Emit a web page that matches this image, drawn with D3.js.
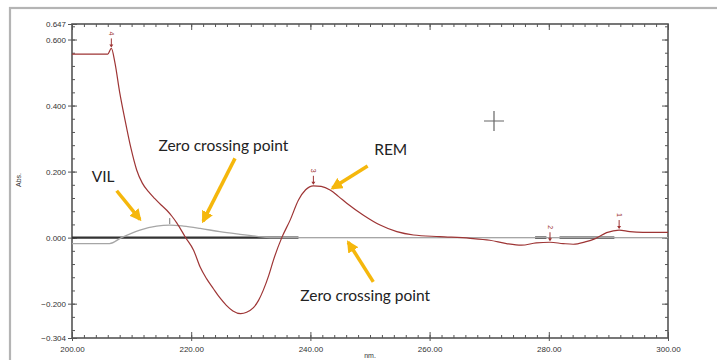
<!DOCTYPE html>
<html>
<head>
<meta charset="utf-8">
<script src="https://cdn.jsdelivr.net/npm/d3@7"></script>
<style>
  body { margin: 0; background: #fff; }
  svg { display: block; }
</style>
</head>
<body>
<div id="chart"></div>
<script>
// --- data ---

// derivative spectrum of REM (red)
let rem_nm  = [200, 206.0, 206.6, 207.2, 208.0, 208.9, 209.9, 210.85, 211.8, 212.8, 213.9, 215.0, 215.9, 216.8, 217.6,
  219.0, 220.4, 221.5, 222.6, 223.7, 224.8, 225.9, 227.0, 228.3, 229.3, 230.4, 231.3, 232.1, 233.0, 233.8,
  235.2, 236.6, 238.0, 239.2, 240.5, 241.8, 243.3, 244.7, 246.1, 248.9, 251.7, 254.5, 257.3, 261.7, 266.8,
  270.1, 272.9, 275.4, 277.9, 280.2, 282.4, 284.1, 286.1, 287.8, 289.7, 291.8, 293.6, 295.8, 300];
let rem_abs = [0.556, 0.556, 0.573, 0.53, 0.44, 0.356, 0.27, 0.205, 0.165, 0.140, 0.118, 0.098, 0.083, 0.064, 0.044,
  0.002, -0.038, -0.089, -0.125, -0.154, -0.182, -0.205, -0.222, -0.230, -0.226, -0.213, -0.190, -0.159, -0.115, -0.068,
  0.0, 0.053, 0.114, 0.145, 0.157, 0.155, 0.144, 0.125, 0.104, 0.068, 0.038, 0.018, 0.008, 0.003, -0.002,
  -0.008, -0.018, -0.023, -0.016, -0.014, -0.018, -0.020, -0.013, -0.003, 0.015, 0.023, 0.018, 0.016, 0.016];

// derivative spectrum of VIL (grey)
let vil_nm  = [200, 206.3, 208.3, 211.4, 214.2, 216.4, 218.7, 221.5, 224.8, 228.2, 231.0, 233.2, 300];
let vil_abs = [-0.018, -0.018, 0.0, 0.023, 0.035, 0.038, 0.035, 0.028, 0.018, 0.010, 0.004, 0.0, 0.0];

// peak pick labels
let peak_num = ["4", "3", "2", "1"];
let peak_nm  = [206.6, 240.5, 280.2, 291.8];
let peak_abs = [0.573, 0.157, -0.014, 0.023];

// thick black baseline segments [from, to]
let base_from = [200, 277.7, 281.8];
let base_to   = [238, 279.6, 291.0];

// axis ticks
let y_major = [-0.304, -0.2, 0, 0.2, 0.4, 0.6, 0.647];
let y_minor = d3.range(-0.28, 0.641, 0.04);
let x_major = [200, 220, 240, 260, 280, 300];
let x_minor = d3.range(202, 300, 2);

// annotations: text, nm, abs
let note_text = ["Zero crossing point", "VIL", "REM", "Zero crossing point"];
let note_nm   = [225.4, 203.3, 250.7, 238.3];
let note_abs  = [0.262, 0.169, 0.250, -0.192];
let note_anchor = ["middle", "start", "start", "start"];
// arrows: from (nm, abs) to (nm, abs)
let arrow_from = [[227.35, 0.240], [207.5, 0.142], [249.6, 0.217], [250.55, -0.134]];
let arrow_to   = [[222.0, 0.050],  [211.4, 0.055], [243.7, 0.150], [246.35, -0.014]];

// --- --- --- --- --- --- --- --- --- --- ---

let width = 717, height = 360;
let margin = {top: 24, right: 49, bottom: 22, left: 72};
let w = width - margin.left - margin.right;
let h = height - margin.top - margin.bottom;

let svg = d3.select("#chart").append("svg")
    .attr("width", width)
    .attr("height", height);

// outer grey frame (runs off the picture at right / bottom)
svg.append("rect")
    .attr("x", 10).attr("y", 8)
    .attr("width", 720).attr("height", 360)
    .attr("fill", "none")
    .attr("stroke", "#b4b4b4")
    .attr("stroke-width", 2.2);

let g = svg.append("g")
    .attr("transform", "translate(" + margin.left + "," + margin.top + ")");

let x = d3.scaleLinear().domain([200, 300]).range([0, w]);
let y = d3.scaleLinear().domain([-0.304, 0.647]).range([h, 0]);

let axisColor = "#555";
let tickFont = "'Liberation Sans', Arial, sans-serif";

function styleAxis(sel) {
  sel.select(".domain").remove();
  sel.selectAll("line").attr("stroke", axisColor);
  sel.selectAll("text").attr("fill", "#333").style("font-family", tickFont).style("font-size", "8px");
}

// minor ticks (inward)
g.append("g").call(d3.axisLeft(y).tickValues(y_minor).tickSize(-3).tickFormat("")).call(styleAxis);
g.append("g").attr("transform", "translate(" + w + ",0)")
    .call(d3.axisRight(y).tickValues(y_minor).tickSize(-3).tickFormat("")).call(styleAxis);
g.append("g").attr("transform", "translate(0," + h + ")")
    .call(d3.axisBottom(x).tickValues(x_minor).tickSize(-3).tickFormat("")).call(styleAxis);
g.append("g")
    .call(d3.axisTop(x).tickValues(x_minor).tickSize(-3).tickFormat("")).call(styleAxis);

// major ticks with labels
let yAxis = g.append("g")
    .call(d3.axisLeft(y).tickValues(y_major).tickSize(4).tickPadding(3).tickFormat(d3.format(".3f")))
    .call(styleAxis);
yAxis.selectAll("line").attr("x2", 5).attr("x1", -4);
yAxis.selectAll("text").attr("x", -6);

let xAxis = g.append("g").attr("transform", "translate(0," + h + ")")
    .call(d3.axisBottom(x).tickValues(x_major).tickSize(3).tickPadding(5).tickFormat(d3.format(".2f")))
    .call(styleAxis);
xAxis.selectAll("line").attr("y1", -6).attr("y2", 3);

g.append("g").attr("transform", "translate(" + w + ",0)")
    .call(d3.axisRight(y).tickValues([-0.2, 0, 0.2, 0.4, 0.6]).tickSize(-6).tickFormat(""))
    .call(styleAxis);
g.append("g")
    .call(d3.axisTop(x).tickValues(x_major).tickSize(-6).tickFormat(""))
    .call(styleAxis);

// plot box
g.append("rect")
    .attr("x", 0).attr("y", 0).attr("width", w).attr("height", h)
    .attr("fill", "none").attr("stroke", axisColor).attr("stroke-width", 1.6);

// axis titles
svg.append("text")
    .attr("transform", "translate(21," + 180 + ") rotate(-90)")
    .attr("text-anchor", "middle")
    .style("font-family", tickFont).style("font-size", "7px").attr("fill", "#333")
    .text("Abs.");
svg.append("text")
    .attr("x", margin.left + x(250) - 0).attr("y", 358)
    .attr("text-anchor", "middle")
    .style("font-family", tickFont).style("font-size", "7px").attr("fill", "#333")
    .text("nm.");

// zero baseline: thin grey across, thick black segments
g.append("line")
    .attr("x1", x(200)).attr("x2", x(300)).attr("y1", y(0)).attr("y2", y(0))
    .attr("stroke", "#aaa").attr("stroke-width", 1);
g.selectAll(".base").data(base_from).enter().append("line")
    .attr("class", "base")
    .attr("x1", d => x(d)).attr("x2", (d, i) => x(base_to[i]))
    .attr("y1", y(0)).attr("y2", y(0))
    .attr("stroke", "#333").attr("stroke-width", 2.4);

let line = d3.line()
    .x(d => x(d[0])).y(d => y(d[1]))
    .curve(d3.curveMonotoneX);

let vil = vil_nm.map((d, i) => [d, vil_abs[i]]);
let rem = rem_nm.map((d, i) => [d, rem_abs[i]]);

g.append("path").datum(vil)
    .attr("d", line).attr("fill", "none")
    .attr("stroke", "#a6a6a6").attr("stroke-width", 1.3);

g.append("path").datum(rem)
    .attr("d", line).attr("fill", "none")
    .attr("stroke", "#9e3535").attr("stroke-width", 1.2);

// grey peak marker on VIL
g.append("line")
    .attr("x1", x(216.4)).attr("x2", x(216.4))
    .attr("y1", y(0.038) - 7).attr("y2", y(0.038) - 1)
    .attr("stroke", "#777").attr("stroke-width", 1);

// peak pick arrows and numbers
let peaks = g.selectAll(".peak").data(peak_num).enter().append("g")
    .attr("class", "peak")
    .attr("transform", (d, i) => "translate(" + x(peak_nm[i]) + "," + y(peak_abs[i]) + ")");
peaks.append("line")
    .attr("x1", 0).attr("x2", 0).attr("y1", -10).attr("y2", -2)
    .attr("stroke", "#9e3535").attr("stroke-width", 1);
peaks.append("path")
    .attr("d", "M-2,-4 L2,-4 L0,-1 Z")
    .attr("fill", "#9e3535");
peaks.append("text")
    .attr("transform", "translate(0,-15) rotate(90)")
    .attr("text-anchor", "middle")
    .attr("dy", "0.35em")
    .style("font-family", tickFont).style("font-size", "7px")
    .attr("fill", "#9e3535")
    .text(d => d);

// cursor cross
svg.append("path")
    .attr("d", "M484,121 H504 M494,111 V131")
    .attr("stroke", "#666").attr("stroke-width", 1.2);

// annotations
let gold = "#f5b70c";
svg.append("defs").append("marker")
    .attr("id", "head")
    .attr("viewBox", "0 0 10 10")
    .attr("refX", 8).attr("refY", 5)
    .attr("markerUnits", "userSpaceOnUse")
    .attr("markerWidth", 12).attr("markerHeight", 12)
    .attr("orient", "auto")
    .append("path").attr("d", "M0,0 L10,5 L0,10 Z").attr("fill", gold);

g.selectAll(".arrow").data(arrow_from).enter().append("line")
    .attr("class", "arrow")
    .attr("x1", d => x(d[0])).attr("y1", d => y(d[1]))
    .attr("x2", (d, i) => x(arrow_to[i][0])).attr("y2", (d, i) => y(arrow_to[i][1]))
    .attr("stroke", gold).attr("stroke-width", 3.5)
    .attr("marker-end", "url(#head)");

g.selectAll(".note").data(note_text).enter().append("text")
    .attr("class", "note")
    .attr("x", (d, i) => x(note_nm[i])).attr("y", (d, i) => y(note_abs[i]))
    .attr("text-anchor", (d, i) => note_anchor[i])
    .style("font-family", "Lato, 'Open Sans', sans-serif").style("font-size", "15.5px")
    .attr("fill", "#222")
    .text(d => d);
</script>
</body>
</html>
